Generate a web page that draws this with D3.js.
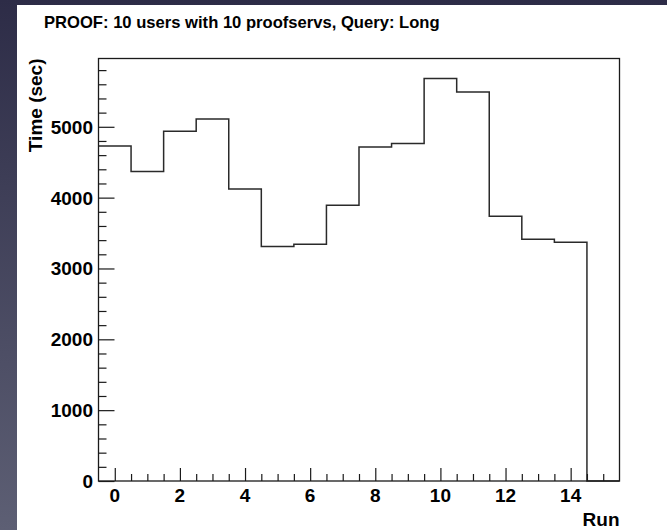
<!DOCTYPE html>
<html>
<head>
<meta charset="utf-8">
<script src="https://cdn.jsdelivr.net/npm/d3@7"></script>
<style>
  html, body { margin: 0; padding: 0; background: #3a3b52; }
  svg { display: block; }
  text { font-family: "Liberation Sans", Arial, Helvetica, sans-serif; font-weight: bold; fill: #000; }
</style>
</head>
<body>
<svg id="chart" width="667" height="530"></svg>
<script>
// Run numbers (bin centres) and the measured query time for each run
const runs = [0, 1, 2, 3, 4, 5, 6, 7, 8, 9, 10, 11, 12, 13, 14, 15];
const times = [4730, 4368, 4937, 5110, 4123, 3310, 3343, 3893, 4715, 4763, 5680, 5491, 3738, 3413, 3371, 0];
const xTickValues = [0, 2, 4, 6, 8, 10, 12, 14];
const yTickValues = [0, 1000, 2000, 3000, 4000, 5000];

const titleText = "PROOF: 10 users with 10 proofservs, Query: Long";
const xTitle = "Run";
const yTitle = "Time (sec)";

const W = 667, H = 530;
const frame = { left: 98.5, right: 619.5, top: 58.5, bottom: 481 };

const svg = d3.select("#chart");

// slide backdrop
const defs = svg.append("defs");
const grad = defs.append("linearGradient").attr("id", "bg").attr("x1", 0).attr("y1", 0).attr("x2", 0).attr("y2", 1);
grad.append("stop").attr("offset", "0%").attr("stop-color", "#2d2c47");
grad.append("stop").attr("offset", "100%").attr("stop-color", "#5d5f74");
svg.append("rect").attr("width", W).attr("height", H).attr("fill", "url(#bg)");

// white canvas
svg.append("rect").attr("x", 17).attr("y", 5).attr("width", W - 17).attr("height", H - 5).attr("fill", "#fff");

const x = d3.scaleLinear().domain([-0.5, 15.5]).range([frame.left, frame.right]);
const yMax = d3.max(times) * 1.05;
const y = d3.scaleLinear().domain([0, yMax]).range([frame.bottom, frame.top]);

// histogram outline as a step path
const pts = [[x(-0.5), y(times[0])]];
runs.forEach((r, i) => {
  pts.push([x(r - 0.5), y(times[i])]);
  pts.push([x(r + 0.5), y(times[i])]);
});
pts.push([x(15.5), y(0)]);
svg.append("path")
  .attr("d", d3.line()(pts))
  .attr("fill", "none")
  .attr("stroke", "#2a2a2a")
  .attr("stroke-width", 1.5);

// frame
svg.append("rect")
  .attr("x", frame.left).attr("y", frame.top)
  .attr("width", frame.right - frame.left).attr("height", frame.bottom - frame.top)
  .attr("fill", "none").attr("stroke", "#1a1a1a").attr("stroke-width", 1.3);

// x axis: major ticks every 2, minor every 0.5
const xAxisMajor = d3.axisTop(x).tickValues(xTickValues).tickSize(13).tickFormat("");
const xMinor = d3.range(0, 15.01, 0.5).filter(v => !xTickValues.includes(v));
const xAxisMinor = d3.axisTop(x).tickValues(xMinor).tickSize(7).tickFormat("");
[xAxisMajor, xAxisMinor].forEach(ax => {
  const g = svg.append("g").attr("transform", `translate(0,${frame.bottom})`).call(ax);
  g.select(".domain").remove();
  g.selectAll("line").attr("stroke", "#1a1a1a").attr("stroke-width", 1.2);
});
svg.append("g").selectAll("text").data(xTickValues).join("text")
  .attr("x", d => x(d)).attr("y", 502)
  .attr("text-anchor", "middle").attr("font-size", 19)
  .text(d => d);

// y axis: major ticks every 1000, minor every 200
const yAxisMajor = d3.axisRight(y).tickValues(yTickValues).tickSize(16).tickFormat("");
const yMinor = d3.range(200, 5801, 200).filter(v => v % 1000 !== 0);
const yAxisMinor = d3.axisRight(y).tickValues(yMinor).tickSize(8).tickFormat("");
[yAxisMajor, yAxisMinor].forEach(ax => {
  const g = svg.append("g").attr("transform", `translate(${frame.left},0)`).call(ax);
  g.select(".domain").remove();
  g.selectAll("line").attr("stroke", "#1a1a1a").attr("stroke-width", 1.2);
});
svg.append("g").selectAll("text").data(yTickValues).join("text")
  .attr("x", 93).attr("y", d => y(d) + 7)
  .attr("text-anchor", "end").attr("font-size", 19)
  .text(d => d);

// axis titles
svg.append("text")
  .attr("x", frame.right).attr("y", 526)
  .attr("text-anchor", "end").attr("font-size", 19)
  .text(xTitle);
svg.append("text")
  .attr("transform", `translate(42,${frame.top}) rotate(-90)`)
  .attr("text-anchor", "end").attr("font-size", 19)
  .text(yTitle);

// plot title
svg.append("text")
  .attr("x", 44).attr("y", 28)
  .attr("font-size", 16.6)
  .text(titleText);
</script>
</body>
</html>
